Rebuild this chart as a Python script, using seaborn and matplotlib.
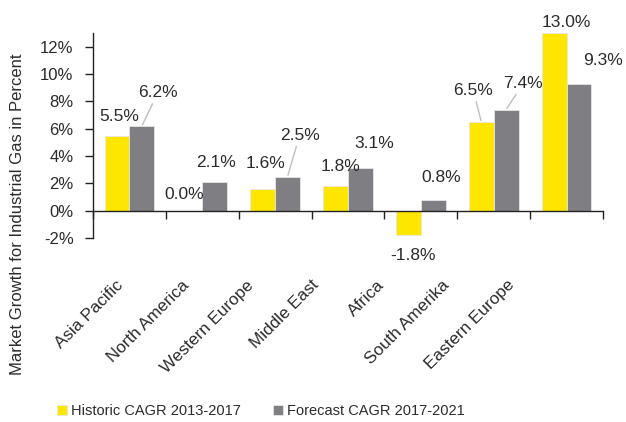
import pandas as pd
import matplotlib.pyplot as plt
import matplotlib.transforms as mtransforms
import seaborn as sns

regions = ["Asia Pacific", "North America", "Western Europe", "Middle East",
           "Africa", "South Amerika", "Eastern Europe"]
historic = [5.5, 0.0, 1.6, 1.8, -1.8, 6.5, 13.0]
forecast = [6.2, 2.1, 2.5, 3.1, 0.8, 7.4, 9.3]
series = ["Historic CAGR 2013-2017", "Forecast CAGR 2017-2021"]
yticks = [-2, 0, 2, 4, 6, 8, 10, 12]

df = pd.DataFrame({
    "Region": regions * 2,
    "Series": [series[0]] * len(regions) + [series[1]] * len(regions),
    "Value": historic + forecast,
})

# label offsets (pixels from bar end) and which labels get a leader line
hist_off = [(2, 19), (-6, 16), (3, 25), (5, 20), (5, -20), (-8, 31), (12, 11)]
fore_off = [(16, 33), (1, 19), (12, 41), (14, 25), (8, 22), (17, 26), (24, 23)]
hist_lead = [False, False, False, False, False, True, False]
fore_lead = [True, False, True, False, False, True, False]

sns.set_style("white")
plt.rcParams["font.family"] = ["Liberation Sans", "DejaVu Sans"]
text_col = "#2b2b2b"

fig = plt.figure(figsize=(6.26, 4.22), dpi=100)
ax = fig.add_axes([0.1486, 0.436, 0.8147, 0.4856])

sns.barplot(data=df, x="Region", y="Value", hue="Series", ax=ax,
            palette=["#FFE600", "#7F7F83"], width=0.68, saturation=1,
            edgecolor="#E6E6E6", linewidth=0.6)

ax.set_ylim(-2, 13)
ax.set_xlim(-0.5, len(regions) - 0.5)
ax.set_yticks(yticks)
ax.set_yticklabels([f"{t}%" for t in yticks])
ax.set_xlabel("")
ax.set_ylabel("")

for s in ["top", "right"]:
    ax.spines[s].set_visible(False)
ax.spines["bottom"].set_position(("data", 0))
for s in ["left", "bottom"]:
    ax.spines[s].set_color("#222222")
    ax.spines[s].set_linewidth(1.0)

ax.tick_params(axis="y", direction="out", length=6, width=1, color="#222222",
               labelsize=12, labelcolor=text_col, pad=8, left=True)
ax.set_xticks([i - 0.5 for i in range(len(regions) + 1)], minor=True)
ax.tick_params(axis="x", which="minor", direction="out", length=6, width=1,
               color="#222222", bottom=True)
ax.tick_params(axis="x", which="major", length=0, pad=48, labelsize=12.3,
               labelcolor=text_col)
# category labels sit a bit tighter than the bars, drifting left
for i, lbl in enumerate(ax.get_xticklabels()):
    lbl.set_rotation(45)
    lbl.set_ha("right")
    shift = mtransforms.ScaledTranslation(-(3 + 7.7 * i) / 100, 0, fig.dpi_scale_trans)
    lbl.set_transform(lbl.get_transform() + shift)

def label_bars(container, values, offsets, leaders):
    for bar, v, off, lead in zip(container, values, offsets, leaders):
        x = bar.get_x() + bar.get_width() / 2
        y = bar.get_y() + bar.get_height()
        arrow = None
        if lead:
            arrow = dict(arrowstyle="-", color="#BFBFBF", lw=1.0,
                         shrinkA=0, shrinkB=1)
        ax.annotate(f"{v:.1f}%", xy=(x, y), xytext=off,
                    textcoords="offset pixels", ha="center", va="center",
                    fontsize=12.5, color=text_col, arrowprops=arrow,
                    annotation_clip=False)

label_bars(ax.containers[0], historic, hist_off, hist_lead)
label_bars(ax.containers[1], forecast, fore_off, fore_lead)

handles, labels = ax.get_legend_handles_labels()
ax.get_legend().remove()
fig.legend(handles, labels, loc="center", bbox_to_anchor=(261 / 626, 1 - 411 / 422),
           ncol=2, frameon=False, fontsize=10.5, handlelength=0.65, handleheight=0.65,
           handletextpad=0.3, columnspacing=2.2, labelcolor=text_col)

fig.text(18 / 626, 1 - 214 / 422, "Market Growth for Industrial Gas in Percent",
         rotation=90, ha="center", va="center", fontsize=12, color=text_col)

fig.savefig("out.png", dpi=100)
